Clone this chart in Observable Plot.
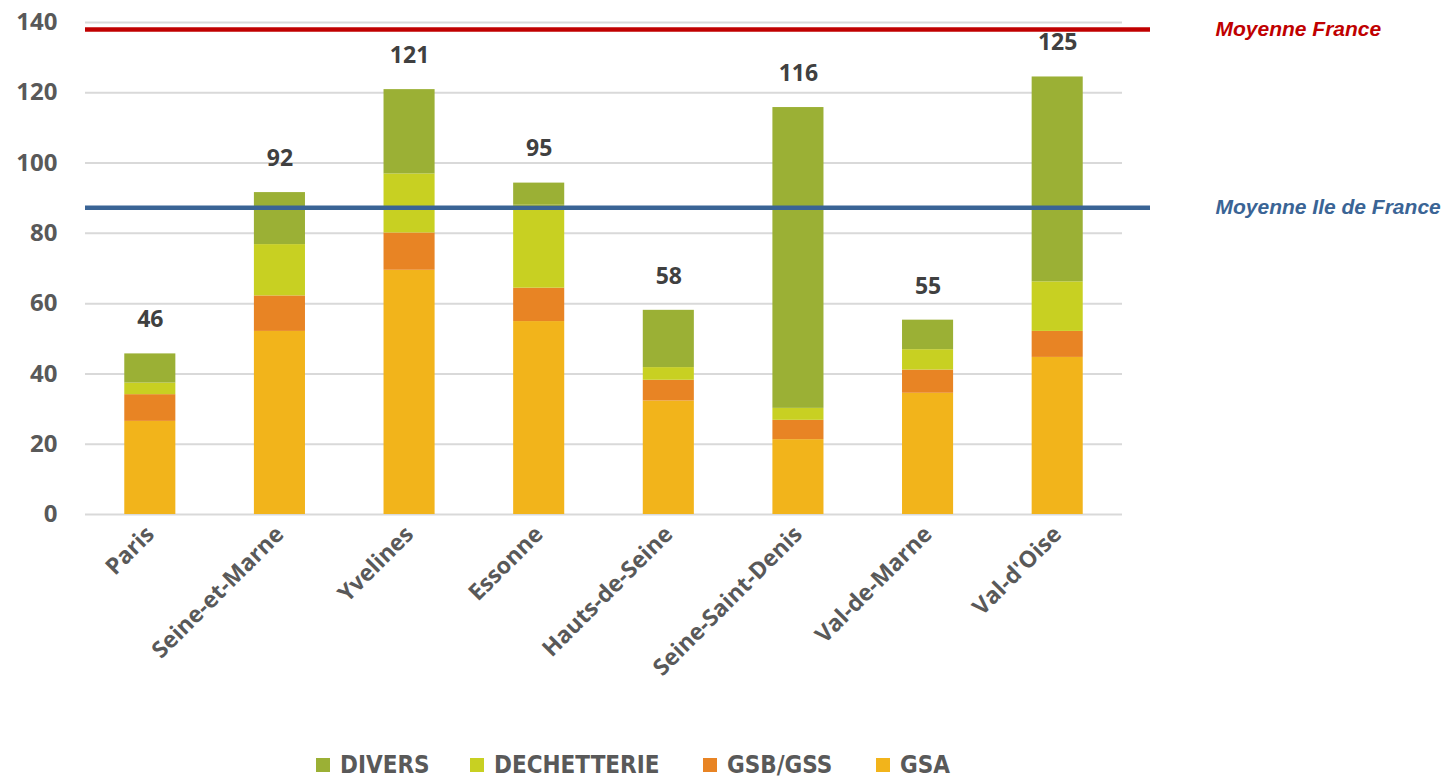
<!DOCTYPE html>
<html>
<head>
<meta charset="utf-8">
<script src="https://cdn.jsdelivr.net/npm/d3@7"></script>
<script src="https://cdn.jsdelivr.net/npm/@observablehq/plot@0.6"></script>
<style>
  html, body { margin: 0; padding: 0; background: #fff; }
  #wrap { position: relative; width: 1448px; height: 779px; overflow: hidden; }
  #legend { position: absolute; left: 0; top: 750px; width: 1448px; height: 30px;
    font-family: "Liberation Sans Narrow", "DejaVu Sans Condensed", "Open Sans", sans-serif;
    font-size: 24px; font-weight: 600; color: #595959; }
  .item { position: absolute; top: 0; display: flex; align-items: center; height: 30px; }
  .sw { width: 14px; height: 14px; margin-right: 10px; }
</style>
</head>
<body>
<div id="wrap">
  <div id="chart"></div>
  <div id="legend"></div>
</div>
<script>
const categories = ["Paris", "Seine-et-Marne", "Yvelines", "Essonne", "Hauts-de-Seine", "Seine-Saint-Denis", "Val-de-Marne", "Val-d'Oise"];
const gsa    = [26.5, 52.1, 69.5, 54.9, 32.3, 21.3, 34.5, 44.7];
const gsbGss = [7.6, 10.1, 10.6, 9.5, 5.9, 5.5, 6.6, 7.4];
const dechetterie = [3.3, 14.6, 16.8, 23.6, 3.6, 3.4, 5.8, 14.1];
const divers = [8.3, 14.8, 24.0, 6.3, 16.3, 85.6, 8.4, 58.3];
const totals = [46, 92, 121, 95, 58, 116, 55, 125];
const seriesNames = ["GSA", "GSB/GSS", "DECHETTERIE", "DIVERS"];
const seriesColors = ["#F2B41B", "#E88424", "#C8D022", "#9BB035"];
const yTicks = [0, 20, 40, 60, 80, 100, 120, 140];
const moyenneFrance = 138;
const moyenneIDF = 87.3;
const refLabels = ["Moyenne France", "Moyenne Ile de France"];
const refColors = ["#C00000", "#3A6495"];

const seriesValues = [gsa, gsbGss, dechetterie, divers];
const rows = [];
categories.forEach((c, i) => {
  seriesNames.forEach((s, j) => rows.push({cat: c, serie: s, value: seriesValues[j][i]}));
});
const tops = categories.map((c, i) => ({cat: c, top: gsa[i] + gsbGss[i] + dechetterie[i] + divers[i], label: totals[i]}));
const refs = [{v: moyenneFrance, label: refLabels[0], color: refColors[0]},
              {v: moyenneIDF, label: refLabels[1], color: refColors[1]}];

const font = "'Open Sans', sans-serif";
const chart = Plot.plot({
  width: 1448,
  height: 748,
  marginLeft: 85,
  marginRight: 326,
  marginTop: 22,
  marginBottom: 234,
  style: {fontFamily: font, background: "transparent"},
  x: {domain: categories, paddingInner: 0.606, paddingOuter: 0.303, round: false, label: null},
  y: {domain: [0, 140], ticks: yTicks, label: null},
  color: {domain: seriesNames, range: seriesColors},
  marks: [
    Plot.gridY(yTicks, {stroke: "#d9d9d9", strokeOpacity: 1, strokeWidth: 2}),
    Plot.axisY({ticks: yTicks, tickSize: 0, tickPadding: 28, fontSize: 24, fontWeight: 700, fill: "#595959", label: null}),
    Plot.axisX({tickSize: 0, tickPadding: 16, tickRotate: -45, fontSize: 23, fontWeight: 700, fill: "#595959", label: null}),
    Plot.barY(rows, {x: "cat", y: "value", fill: "serie"}),
    Plot.text(tops, {x: "cat", y: "top", text: "label", dy: -34, fontSize: 23, fontWeight: 700, fill: "#404040"}),
    Plot.ruleY(refs, {y: "v", stroke: "color", strokeWidth: 4.5, insetRight: -28}),
    Plot.text(refs, {y: "v", text: "label", fill: "color", frameAnchor: "right", textAnchor: "start", dx: 93,
      fontSize: 21, fontWeight: 700, fontStyle: "italic", fontFamily: "'Liberation Sans', Arial, sans-serif"})
  ]
});
document.getElementById("chart").append(chart);

const legendOrder = ["DIVERS", "DECHETTERIE", "GSB/GSS", "GSA"];
const legendX = [316, 470, 703, 876];
const legend = document.getElementById("legend");
legendOrder.forEach((name, i) => {
  const item = document.createElement("div");
  item.className = "item";
  item.style.left = legendX[i] + "px";
  const sw = document.createElement("div");
  sw.className = "sw";
  sw.style.background = seriesColors[seriesNames.indexOf(name)];
  const t = document.createElement("span");
  t.textContent = name;
  item.append(sw, t);
  legend.append(item);
});
</script>
</body>
</html>
